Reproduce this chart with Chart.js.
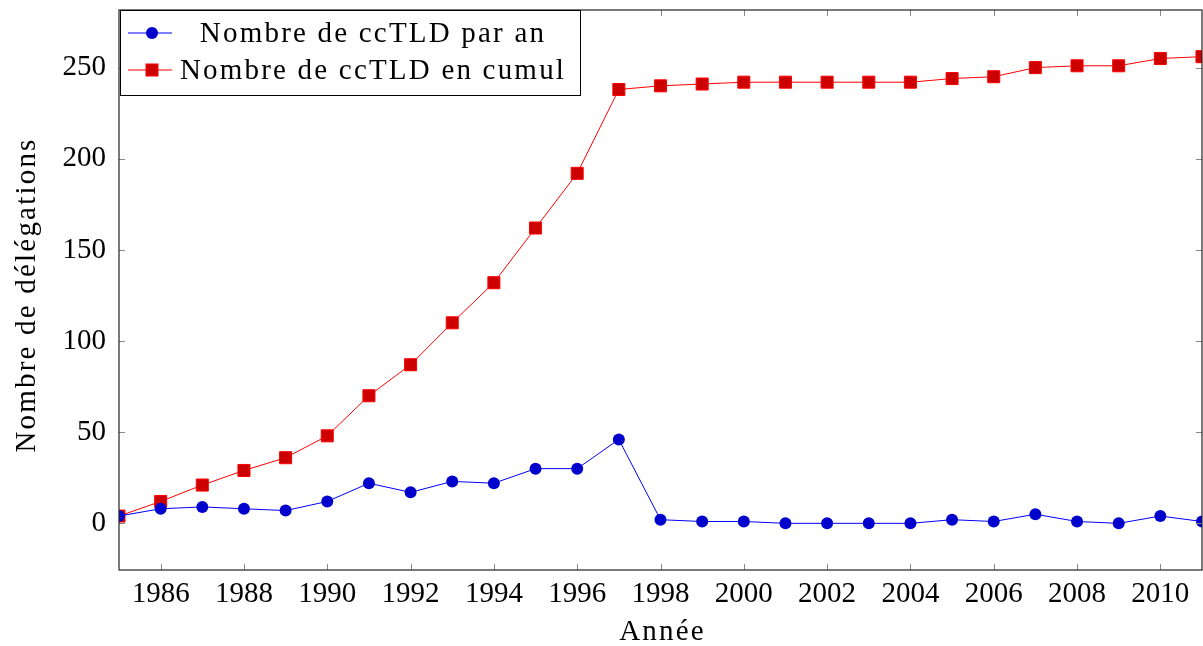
<!DOCTYPE html>
<html>
<head>
<meta charset="utf-8">
<script src="https://cdn.jsdelivr.net/npm/chart.js@4.4.0/dist/chart.umd.min.js"></script>
<style>
  html, body { margin: 0; padding: 0; background: #fff; }
  #wrap { width: 1203px; height: 646px; }
</style>
</head>
<body>
<div id="wrap"><canvas id="c" width="1203" height="646"></canvas></div>
<script>
const annees = [1985, 1986, 1987, 1988, 1989, 1990, 1991, 1992, 1993, 1994, 1995, 1996, 1997, 1998,
                1999, 2000, 2001, 2002, 2003, 2004, 2005, 2006, 2007, 2008, 2009, 2010, 2011];
const parAn = [4, 8, 9, 8, 7, 12, 22, 17, 23, 22, 30, 30, 46, 2,
               1, 1, 0, 0, 0, 0, 2, 1, 5, 1, 0, 4, 1];
const cumul = [4, 12, 21, 29, 36, 48, 70, 87, 110, 132, 162, 192, 238, 240,
               241, 242, 242, 242, 242, 242, 244, 245, 250, 251, 251, 255, 256];
const xTicks = [1986, 1988, 1990, 1992, 1994, 1996, 1998, 2000, 2002, 2004, 2006, 2008, 2010];
const yTicks = [0, 50, 100, 150, 200, 250];
const labelParAn = 'Nombre de ccTLD par an';
const labelCumul = 'Nombre de ccTLD en cumul';
const titreX = 'Année';
const titreY = 'Nombre de délégations';

const police = '"Liberation Serif", "DejaVu Serif", serif';
const bleu = '#0000ff', bleuFonce = '#0000cc';
const rouge = '#ff0000', rougeFonce = '#cc0000';

function pts(vals) {
  return annees.map((a, i) => ({x: a, y: vals[i]}));
}

function sansMarge(s) {
  s.paddingLeft = 0; s.paddingRight = 0; s.paddingTop = 0; s.paddingBottom = 0;
}

// cadre + graduations vers l'interieur, comme pgfplots
const cadre = {
  id: 'cadre',
  afterDatasetsDraw(chart) {
    const {ctx, chartArea: a, scales} = chart;
    ctx.save();
    ctx.strokeStyle = '#888';
    ctx.lineWidth = 1;
    const t = 6;
    ctx.beginPath();
    xTicks.forEach(v => {
      const x = Math.round(scales.x.getPixelForValue(v)) + 0.5;
      ctx.moveTo(x, a.bottom); ctx.lineTo(x, a.bottom - t);
      ctx.moveTo(x, a.top); ctx.lineTo(x, a.top + t);
    });
    yTicks.forEach(v => {
      const y = Math.round(scales.y.getPixelForValue(v)) + 0.5;
      ctx.moveTo(a.left, y); ctx.lineTo(a.left + t, y);
      ctx.moveTo(a.right, y); ctx.lineTo(a.right - t, y);
    });
    ctx.stroke();
    ctx.strokeStyle = '#222';
    ctx.lineWidth = 1.2;
    ctx.strokeRect(a.left, a.top, a.right - a.left, a.bottom - a.top);
    ctx.restore();
  }
};

// titres des axes (espacement des lettres pour approcher la largeur de Computer Modern)
const titres = {
  id: 'titres',
  afterDraw(chart) {
    const {ctx, chartArea: a} = chart;
    ctx.save();
    ctx.fillStyle = '#000';
    ctx.font = '29px ' + police;
    ctx.letterSpacing = '2.2px';
    ctx.textAlign = 'center';
    ctx.textBaseline = 'middle';
    ctx.fillText(titreX, (a.left + a.right) / 2 + 2, 632);
    ctx.translate(27, (a.top + a.bottom) / 2 + 5);
    ctx.rotate(-Math.PI / 2);
    ctx.fillText(titreY, 0, 0);
    ctx.restore();
  }
};

// legende encadree en haut a gauche
const legende = {
  id: 'legende',
  afterDraw(chart) {
    const {ctx, chartArea: a} = chart;
    const x0 = a.left + 1, y0 = a.top, w = 460, h = 85;
    ctx.save();
    ctx.fillStyle = '#fff';
    ctx.fillRect(x0, y0, w, h);
    ctx.strokeStyle = '#000';
    ctx.lineWidth = 1;
    ctx.strokeRect(x0 + 0.5, y0 + 0.5, w, h);
    const rows = [
      {label: labelParAn, y: y0 + 23, line: bleu, fill: bleuFonce, style: 'circle'},
      {label: labelCumul, y: y0 + 60, line: rouge, fill: rougeFonce, style: 'rect'}
    ];
    ctx.font = '29px ' + police;
    ctx.letterSpacing = '2.2px';
    ctx.textAlign = 'center';
    ctx.textBaseline = 'middle';
    rows.forEach(r => {
      ctx.strokeStyle = r.line;
      ctx.lineWidth = 1;
      ctx.beginPath();
      ctx.moveTo(x0 + 8, r.y); ctx.lineTo(x0 + 52, r.y);
      ctx.stroke();
      ctx.fillStyle = r.fill;
      if (r.style === 'circle') {
        ctx.beginPath();
        ctx.arc(x0 + 32, r.y, 6, 0, Math.PI * 2);
        ctx.fill();
      } else {
        ctx.fillRect(x0 + 26, r.y - 6, 12, 12);
        ctx.strokeStyle = rouge;
        ctx.strokeRect(x0 + 26, r.y - 6, 12, 12);
      }
      ctx.fillStyle = '#000';
      ctx.fillText(r.label, 373, r.y + 1);
    });
    ctx.restore();
  }
};

new Chart(document.getElementById('c'), {
  type: 'line',
  data: {
    datasets: [
      {
        label: labelParAn,
        data: pts(parAn),
        borderColor: bleu,
        borderWidth: 1,
        backgroundColor: bleuFonce,
        pointBackgroundColor: bleuFonce,
        pointBorderColor: bleuFonce,
        pointStyle: 'circle',
        pointRadius: 6,
        pointBorderWidth: 0,
        tension: 0,
        clip: 0
      },
      {
        label: labelCumul,
        data: pts(cumul),
        borderColor: rouge,
        borderWidth: 1,
        backgroundColor: rougeFonce,
        pointBackgroundColor: rougeFonce,
        pointBorderColor: rouge,
        pointStyle: 'rect',
        pointRadius: 8.5,
        pointBorderWidth: 1,
        tension: 0,
        clip: 0
      }
    ]
  },
  options: {
    responsive: false,
    animation: false,
    layout: {autoPadding: false, padding: {top: 10, right: 1, left: 0, bottom: 0}},
    plugins: {legend: {display: false}, tooltip: {enabled: false}},
    scales: {
      x: {
        type: 'linear',
        min: 1985,
        max: 2011,
        afterBuildTicks: s => { s.ticks = xTicks.map(v => ({value: v})); },
        afterFit: s => { s.height = 76; sansMarge(s); },
        grid: {display: false, drawTicks: false},
        border: {display: false},
        ticks: {
          padding: 7,
          color: '#000',
          font: {family: police, size: 29},
          callback: v => String(v),
          maxRotation: 0,
          autoSkip: false
        },
        title: {display: false, text: titreX}
      },
      y: {
        type: 'linear',
        min: -25.6,
        max: 281.6,
        afterBuildTicks: s => { s.ticks = yTicks.map(v => ({value: v})); },
        afterFit: s => { s.width = 119; sansMarge(s); },
        grid: {display: false, drawTicks: false},
        border: {display: false},
        ticks: {
          padding: 13,
          color: '#000',
          font: {family: police, size: 29},
          autoSkip: false
        },
        title: {display: false, text: titreY}
      }
    }
  },
  plugins: [cadre, titres, legende]
});
</script>
</body>
</html>
